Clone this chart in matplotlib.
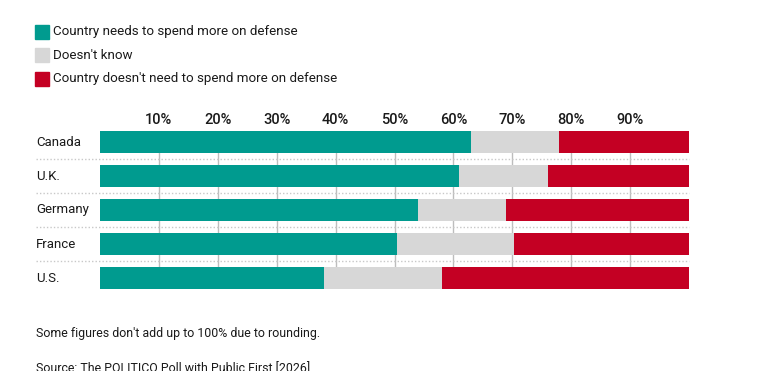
import numpy as np
import matplotlib.pyplot as plt

plt.rcParams["font.family"] = ["Roboto", "DejaVu Sans"]

# Data (percent; rows normalised to 100 when drawn)
countries = ["Canada", "U.K.", "Germany", "France", "U.S."]
needs_more = [63, 61, 54, 51, 38]
dont_know = [15, 15, 15, 20, 20]
no_need = [22, 24, 31, 30, 42]
series_names = [
    "Country needs to spend more on defense",
    "Doesn't know",
    "Country doesn't need to spend more on defense",
]
ticks = [10, 20, 30, 40, 50, 60, 70, 80, 90]

colors = ["#009b8f", "#d7d7d7", "#c40023"]
text_color = "#1a1a1a"

W, H = 768, 392
fig = plt.figure(figsize=(W / 100, H / 100), dpi=100)

# axes placed in pixel coordinates
left, right, top, bottom = 100, 689, 131, 289
ax = fig.add_axes([left / W, 1 - bottom / H, (right - left) / W, (bottom - top) / H])

vals = np.array([needs_more, dont_know, no_need], dtype=float)
vals = vals / vals.sum(axis=0) * 100
y = np.arange(len(countries))
bar_h = 22 / 34

start = np.zeros(len(countries))
for i in range(3):
    ax.barh(y, vals[i], left=start, height=bar_h, color=colors[i], zorder=3)
    start += vals[i]

ax.set_xlim(0, 100)
ax.set_ylim(len(countries) - 1 + bar_h / 2, -bar_h / 2)

ax.set_xticks(ticks)
ax.set_xticklabels([f"{t}%" for t in ticks], fontweight="medium")
ax.xaxis.tick_top()
ax.tick_params(axis="x", length=0, pad=3, labelsize=10.5, labelcolor=text_color)
ax.set_yticks([])
ax.grid(axis="x", color="#bdbdbd", lw=1, zorder=0)
ax.set_axisbelow(True)
for s in ax.spines.values():
    s.set_visible(False)

# dotted separators between rows, running under the labels too
lab_x = -64 / 5.89
for i in range(len(countries) - 1):
    ax.plot([lab_x, 100], [i + 0.5, i + 0.5], color="#c8c8c8", lw=1,
            ls=(0, (1, 1.5)), clip_on=False, zorder=1)

for i, c in enumerate(countries):
    ax.text(lab_x, i, c, ha="left", va="center", fontsize=9.5, color=text_color,
            clip_on=False)

# legend
for i, name in enumerate(series_names):
    cy = 32 + i * 23.4
    fig.patches.append(plt.Rectangle((35 / W, 1 - (cy + 7) / H), 14 / W, 14 / H,
                                     transform=fig.transFigure, color=colors[i]))
    fig.text(53 / W, 1 - cy / H, name, ha="left", va="center", fontsize=9.6,
             color=text_color)

fig.text(36 / W, 1 - 333 / H, "Some figures don't add up to 100% due to rounding.",
         ha="left", va="center", fontsize=8.9, color=text_color)
fig.text(36 / W, 1 - 372 / H, "Source: The POLITICO Poll with Public First [2026]",
         ha="left", va="baseline", fontsize=8.9, color=text_color)
# the reference image cuts the source line off
fig.add_artist(plt.Rectangle((0, 0), 1, (H - 371) / H, transform=fig.transFigure,
                             facecolor="white", edgecolor="none", zorder=10))

fig.savefig("out.png", dpi=100)
